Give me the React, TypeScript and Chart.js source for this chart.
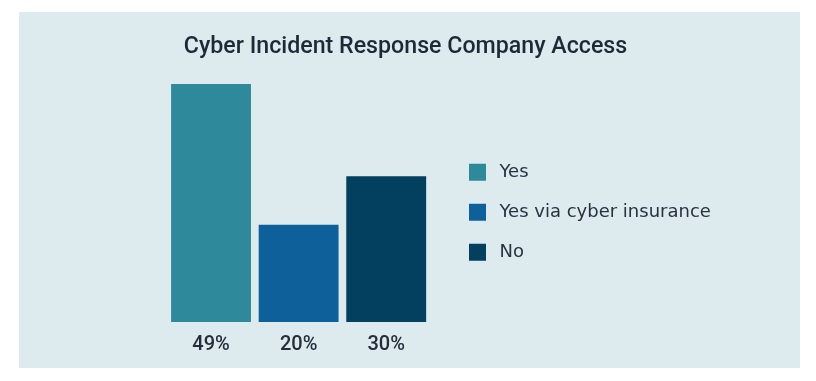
import React, { useEffect, useRef } from "react";
import { Chart, registerables } from "chart.js";

Chart.register(...registerables);

const categories = ["Yes", "Yes via cyber insurance", "No"];
const values = [49, 20, 30];
const colors = ["#2E8A9B", "#0D6099", "#033F5F"];
const titleText = "Cyber Incident Response Company Access";

const PANEL_BG = "#DDEAEE";
const LEGEND_FONT_SIZE = 18;
const LEGEND_FAMILY = "'DejaVu Sans'";
const LEGEND_BOX = 26;
const LEGEND_PAD = 14;

const backgroundPlugin = {
  id: "panelBackground",
  beforeDraw(chart: any) {
    const { ctx, width, height } = chart;
    ctx.save();
    ctx.fillStyle = "#FFFFFF";
    ctx.fillRect(0, 0, width, height);
    ctx.fillStyle = PANEL_BG;
    ctx.fillRect(19, 12, 781, 356);
    ctx.restore();
  },
};

function measureLegendWidth(): number {
  const c = document.createElement("canvas");
  const ctx = c.getContext("2d")!;
  ctx.font = `normal ${LEGEND_FONT_SIZE}px ${LEGEND_FAMILY}`;
  let maxW = 0;
  for (const t of categories) maxW = Math.max(maxW, ctx.measureText(t).width);
  return LEGEND_PAD + LEGEND_BOX + LEGEND_FONT_SIZE / 2 + maxW + 10;
}

export default function App() {
  const ref = useRef<HTMLCanvasElement | null>(null);

  useEffect(() => {
    if (!ref.current) return;
    const legendW = measureLegendWidth();
    const legendLeft = 450.5;
    const plotLeft = 167.25;
    const rightGap = 20.5;
    const padL = Math.max(0, 811 - legendLeft - legendW);
    const padR = 5 + padL;
    const leftAxisW = plotLeft - padL;

    const chart = new Chart(ref.current, {
      type: "bar",
      data: {
        labels: categories,
        datasets: [
          {
            label: "Access",
            data: values,
            backgroundColor: colors,
            borderWidth: 0,
            barPercentage: 0.912,
            categoryPercentage: 1,
          },
        ],
      },
      plugins: [backgroundPlugin],
      options: {
        responsive: false,
        animation: false,
        devicePixelRatio: 1,
        layout: {
          padding: { left: padL, right: padR, top: 12, bottom: 13 },
        },
        scales: {
          x: {
            grid: { display: false, drawTicks: false },
            border: { display: false },
            ticks: {
              padding: 11,
              color: "#262D3A",
              font: { family: "Roboto", size: 20, weight: "500" },
              callback: (_v: any, i: number) => values[i] + "%",
            },
          },
          y: {
            display: false,
            position: "left",
            min: 0,
            max: 50,
            afterFit: (s: any) => {
              s.width = leftAxisW;
            },
          },
          yRight: {
            type: "linear",
            display: false,
            position: "right",
            min: 0,
            max: 50,
            afterFit: (s: any) => {
              s.width = rightGap;
            },
          },
        },
        plugins: {
          title: {
            display: true,
            text: titleText,
            color: "#1E2836",
            font: { family: "Roboto", size: 23.2, weight: "500", lineHeight: 1.2 },
            padding: { top: 21.1, bottom: 18.1 },
          },
          tooltip: { enabled: false },
          legend: {
            display: true,
            position: "right",
            align: "center",
            fullSize: false,
            title: {
              display: true,
              text: "",
              font: { size: 10, lineHeight: 1.2 },
              padding: { top: 11.4, bottom: 0 },
            },
            labels: {
              boxWidth: LEGEND_BOX,
              boxHeight: LEGEND_BOX,
              padding: LEGEND_PAD,
              color: "#2A3140",
              font: { family: LEGEND_FAMILY, size: LEGEND_FONT_SIZE },
              generateLabels: (c: any) =>
                (c.data.labels as string[]).map((lab, i) => ({
                  text: lab,
                  fillStyle: c.data.datasets[0].backgroundColor[i],
                  strokeStyle: PANEL_BG,
                  lineWidth: 9,
                  fontColor: "#2A3140",
                  hidden: false,
                  index: i,
                  datasetIndex: 0,
                })),
            },
          },
        },
      },
    });
    return () => chart.destroy();
  }, []);

  return (
    <div style={{ position: "absolute", left: 0, top: 0, width: 816, height: 381 }}>
      <canvas ref={ref} width={816} height={381} style={{ display: "block", width: 816, height: 381 }} />
    </div>
  );
}
